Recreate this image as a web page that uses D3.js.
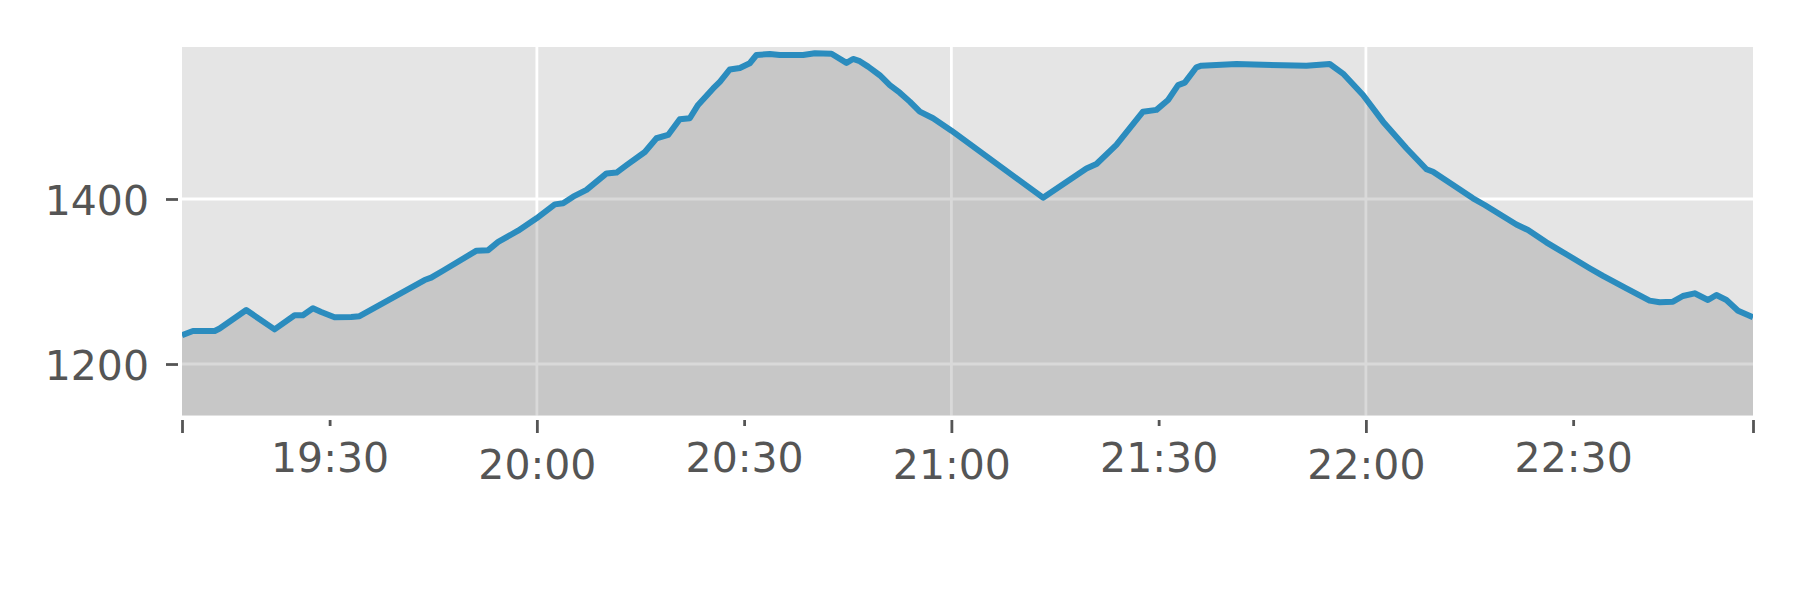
<!DOCTYPE html>
<html>
<head>
<meta charset="utf-8">
<script src="https://cdn.jsdelivr.net/npm/d3@7"></script>
<style>
  body { margin: 0; background: #fff; }
  text { font-family: "DejaVu Sans", sans-serif; }
</style>
</head>
<body>
<svg width="1800" height="600"></svg>
<script>
// readings (time of day, value)
var times = [
  "19:08:38", "19:10:13", "19:13:22", "19:14:05", "19:17:56", "19:22:02", "19:24:56", "19:26:08",
  "19:27:35", "19:28:47", "19:30:43", "19:33:08", "19:34:20", "19:43:45", "19:44:42", "19:46:24",
  "19:51:16", "19:52:57", "19:54:24", "19:57:17", "19:59:57", "20:02:36", "20:03:48", "20:05:15",
  "20:07:11", "20:10:05", "20:11:32", "20:12:59", "20:15:38", "20:17:19", "20:19:00", "20:20:41",
  "20:22:08", "20:23:20", "20:25:31", "20:26:29", "20:27:56", "20:29:23", "20:30:49", "20:31:47",
  "20:33:43", "20:35:10", "20:38:32", "20:40:14", "20:42:39", "20:44:49", "20:45:46", "20:46:44",
  "20:47:57", "20:49:38", "20:51:05", "20:52:32", "20:53:59", "20:55:26", "20:57:21", "21:00:01",
  "21:13:16", "21:19:33", "21:21:00", "21:23:53", "21:27:44", "21:29:41", "21:31:22", "21:32:49",
  "21:33:47", "21:35:28", "21:36:11", "21:41:16", "21:48:00", "21:51:23", "21:54:46", "21:56:41",
  "21:59:35", "22:02:29", "22:05:52", "22:08:46", "22:09:43", "22:12:37", "22:15:30", "22:17:12",
  "22:21:47", "22:23:28", "22:26:07", "22:29:01", "22:32:23", "22:34:19", "22:37:42", "22:41:04",
  "22:42:31", "22:44:27", "22:45:53", "22:47:35", "22:49:31", "22:50:44", "22:52:11", "22:53:52",
  "22:56:02"
];
var values = [
  1235, 1240, 1240, 1243, 1265.5, 1242, 1259, 1259,
  1267.5, 1263, 1256.6, 1257, 1258, 1301.8, 1304.6, 1313,
  1337.4, 1338, 1348, 1361.6, 1376.6, 1393.5, 1394.8, 1402.8,
  1411, 1431, 1432, 1441, 1457, 1473.6, 1477.6, 1496.6,
  1497.8, 1514, 1534, 1542, 1557, 1558.8, 1564.5, 1574.5,
  1575.8, 1574.5, 1574.5, 1576.6, 1576, 1565, 1569.7, 1567,
  1560.4, 1550, 1538, 1528.8, 1518, 1505.8, 1497.8, 1482.8,
  1401.6, 1437, 1442.4, 1465.5, 1505.8, 1508, 1520, 1538,
  1541, 1559.6, 1561.6, 1563.6, 1562, 1561.6, 1563.6, 1552,
  1526, 1493.7, 1461.5, 1436, 1433, 1417, 1400.8, 1392.7,
  1369, 1362.4, 1347.5, 1333, 1316, 1306.7, 1291.7, 1276.8,
  1274.8, 1275.5, 1282.4, 1285.7, 1277.6, 1283.6, 1277.6, 1264.6,
  1256.6
];
var majorTicks = ["20:00", "21:00", "22:00"];
var minorTicks = ["19:30", "20:30", "21:30", "22:30"];
var yTicks = [1200, 1400];
var yLimits = [1137.6, 1584.2];

var parseT = d3.timeParse("%H:%M:%S"),
    parseHM = d3.timeParse("%H:%M"),
    fmt = d3.timeFormat("%H:%M");

var data = times.map(function(t, i) { return {t: parseT(t), v: values[i]}; });

var svg = d3.select("svg"),
    pLeft = 182, pRight = 1753, pTop = 47, pBottom = 415.5;

var x = d3.scaleTime()
    .domain(d3.extent(data, function(d) { return d.t; }))
    .range([pLeft, pRight]);
var y = d3.scaleLinear()
    .domain(yLimits)
    .range([pBottom, pTop]);

svg.append("defs").append("clipPath").attr("id", "plot")
  .append("rect")
    .attr("x", pLeft).attr("y", pTop)
    .attr("width", pRight - pLeft).attr("height", pBottom - pTop);

svg.append("rect")
    .attr("x", pLeft).attr("y", pTop)
    .attr("width", pRight - pLeft).attr("height", pBottom - pTop)
    .attr("fill", "#e5e5e5");

// grid
var grid = svg.append("g").attr("stroke", "#fff").attr("stroke-width", 2.8);
grid.selectAll("line.h").data(yTicks).enter().append("line")
    .attr("x1", pLeft).attr("x2", pRight)
    .attr("y1", function(d) { return y(d); }).attr("y2", function(d) { return y(d); });
grid.selectAll("line.v").data(majorTicks.map(parseHM)).enter().append("line")
    .attr("y1", pTop).attr("y2", pBottom)
    .attr("x1", function(d) { return x(d); }).attr("x2", function(d) { return x(d); });

// filled area + line
svg.append("path")
    .datum(data)
    .attr("fill", "#808080")
    .attr("fill-opacity", 0.3)
    .attr("d", d3.area()
      .x(function(d) { return x(d.t); })
      .y0(pBottom)
      .y1(function(d) { return y(d.v); }));

svg.append("path")
    .datum(data)
    .attr("clip-path", "url(#plot)")
    .attr("fill", "none")
    .attr("stroke", "#2b8cbe")
    .attr("stroke-width", 6)
    .attr("stroke-linejoin", "round")
    .attr("stroke-linecap", "butt")
    .attr("d", d3.line()
      .x(function(d) { return x(d.t); })
      .y(function(d) { return y(d.v); }));

// axes
var dom = x.domain();
var majorVals = [dom[0]].concat(majorTicks.map(parseHM), [dom[1]]);

var xMajor = svg.append("g")
    .attr("transform", "translate(0,420)")
    .call(d3.axisBottom(x)
      .tickValues(majorVals)
      .tickSize(13)
      .tickPadding(17)
      .tickFormat(function(d, i) { return (i === 0 || i === majorVals.length - 1) ? "" : fmt(d); }));

var xMinor = svg.append("g")
    .attr("transform", "translate(0,420)")
    .call(d3.axisBottom(x)
      .tickValues(minorTicks.map(parseHM))
      .tickSize(6)
      .tickPadding(17)
      .tickFormat(fmt));

var yAxis = svg.append("g")
    .attr("transform", "translate(178,0)")
    .call(d3.axisLeft(y)
      .tickValues(yTicks)
      .tickSize(12)
      .tickPadding(17)
      .tickFormat(d3.format("d")));
yAxis.selectAll(".tick text").attr("dy", "0.37em");

[xMajor, xMinor, yAxis].forEach(function(g) {
  g.select(".domain").remove();
  g.selectAll(".tick line").attr("stroke", "#555").attr("stroke-width", 2.8);
  g.selectAll(".tick text")
    .attr("fill", "#555")
    .attr("font-size", 41)
    .attr("font-family", "DejaVu Sans, sans-serif");
});
</script>
</body>
</html>
